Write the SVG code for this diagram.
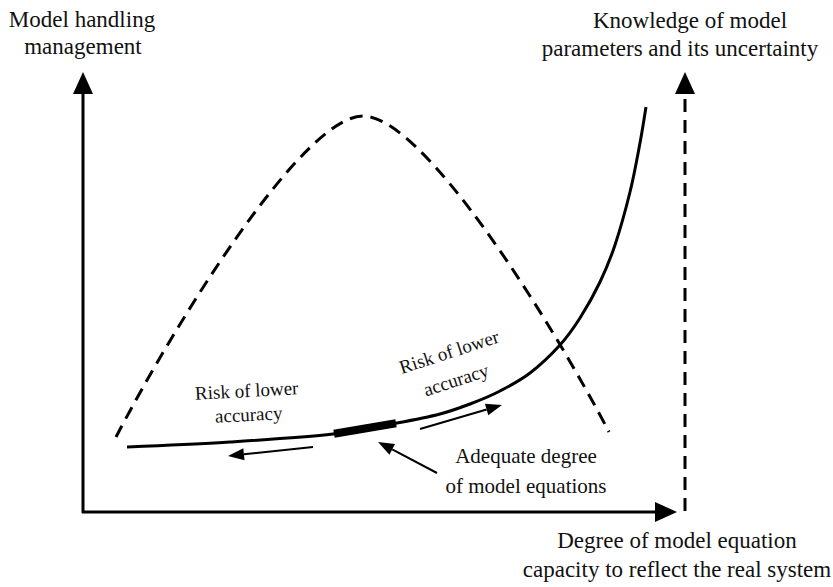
<svg xmlns="http://www.w3.org/2000/svg" width="833" height="587" viewBox="0 0 833 587">
  <style>
    text { font-family: "Liberation Serif", "DejaVu Serif", "Noto Serif", serif; fill: #111; text-anchor: middle; }
    .big { font-size: 23px; }
    .mid { font-size: 21px; }
    .small { font-size: 19px; }
    .axis { stroke: #000; stroke-width: 3; fill: none; }
    .dash { stroke: #000; stroke-width: 3; fill: none; stroke-dasharray: 13 8; }
    .curve { stroke: #000; stroke-width: 3; fill: none; }
    .arr { stroke: #000; stroke-width: 2; fill: none; marker-end: url(#small); }
  </style>
  <defs>
    <marker id="big" markerUnits="userSpaceOnUse" markerWidth="24" markerHeight="22" refX="0" refY="10" orient="auto" overflow="visible">
      <path d="M0,0 L22,10 L0,20 Z" fill="#000"/>
    </marker>
    <marker id="small" markerUnits="userSpaceOnUse" markerWidth="18" markerHeight="14" refX="0" refY="6" orient="auto" overflow="visible">
      <path d="M0,0 L16,6 L0,12 Z" fill="#000"/>
    </marker>
  </defs>

  <g id="connectors">
    <line id="y-axis" class="axis" x1="83" y1="513" x2="83" y2="94" marker-end="url(#big)"/>
    <line id="x-axis" class="axis" x1="82" y1="512" x2="655" y2="512" marker-end="url(#big)"/>
    <line id="knowledge-axis" class="dash" x1="685" y1="511" x2="685" y2="94" marker-end="url(#big)"/>
    <path id="handling-curve" class="dash" d="M116,437 C176,322 303,116 363,116 C423,116 549,317 609,432"/>
    <path id="capacity-curve" class="curve" d="M127,447 C144.2,446.2 195.7,444.2 230,442 C264.3,439.8 305.2,437.2 333,434 C360.8,430.8 379.2,426.3 397,423 C414.8,419.7 427.8,417.2 440,414 C452.2,410.8 460,407.8 470,404 C480,400.2 490,396.2 500,391 C510,385.8 520,380.7 530,373 C540,365.3 551.7,354.2 560,345 C568.3,335.8 573.3,328.5 580,318 C586.7,307.5 594.2,294.2 600,282 C605.8,269.8 610,260 615,245 C620,230 625.8,209 630,192 C634.2,175 637.3,157.2 640,143 C642.7,128.8 645,113 646,107"/>
    <line id="adequate-segment" x1="334" y1="433.8" x2="396" y2="423.2" stroke="#000" stroke-width="8"/>
    <line id="left-arrow" class="arr" x1="313" y1="447" x2="243.9" y2="454.3"/>
    <line id="right-arrow" class="arr" x1="420" y1="429" x2="486.6" y2="409.5"/>
    <line id="pointer-arrow" class="arr" x1="437" y1="473" x2="392.2" y2="449.4"/>
  </g>

  <g id="label-y" class="big">
    <text x="82" y="27">Model handling</text>
    <text x="83" y="54">management</text>
  </g>
  <g id="label-knowledge" class="big">
    <text x="690" y="28">Knowledge of model</text>
    <text x="680" y="56">parameters and its uncertainty</text>
  </g>
  <g id="label-x" class="big">
    <text x="677" y="548">Degree of model equation</text>
    <text x="677" y="577">capacity to reflect the real system</text>
  </g>
  <g id="label-risk-left" class="small">
    <text x="247" y="397" transform="rotate(-3 247 397)">Risk of lower</text>
    <text x="249" y="421" transform="rotate(-3 249 421)">accuracy</text>
  </g>
  <g id="label-risk-right" class="small">
    <text x="451" y="358" transform="rotate(-18 451 358)">Risk of lower</text>
    <text x="458" y="386" transform="rotate(-18 458 386)">accuracy</text>
  </g>
  <g id="label-adequate" class="mid">
    <text x="526" y="463">Adequate degree</text>
    <text x="526" y="493">of model equations</text>
  </g>
</svg>
